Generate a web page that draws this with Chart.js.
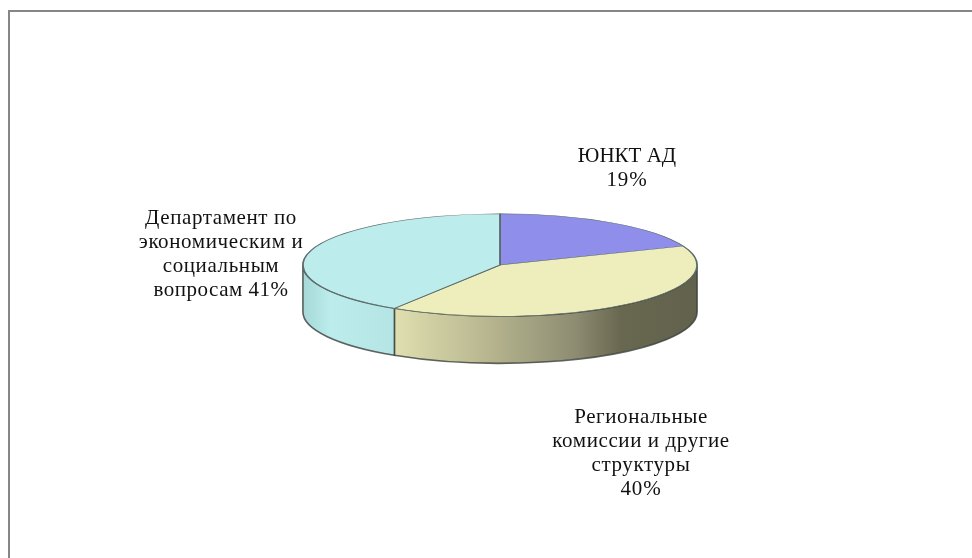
<!DOCTYPE html>
<html><head><meta charset="utf-8">
<style>html,body{margin:0;padding:0;background:#fff}#w{width:972px;height:558px;position:relative}</style>
<script src="https://cdn.jsdelivr.net/npm/chart.js@4/dist/chart.umd.min.js"></script>
</head><body><div id="w"><canvas id="c" width="972" height="558"></canvas></div>
<script>
const categories = ["ЮНКТАД", "Региональные комиссии и другие структуры", "Департамент по экономическим и социальным вопросам"];
const values = [19, 40, 41];
const topColors = ["#8f8feb", "#eeeebc", "#bcecec"];
const wallStops = [
  [[0, "#8f8feb"], [1, "#5a5a96"]],
  [[0, "#e0dfb0"], [0.3, "#b8b790"], [0.6, "#8d8c72"], [0.75, "#68674f"], [1, "#62614c"]],
  [[0, "#a6d8d8"], [0.3, "#bcecec"], [1, "#b4e4e4"]]
];
const labelLines = [
  ["ЮНКТ АД", "{v}%"],
  ["Региональные", "комиссии и другие", "структуры", "{v}%"],
  ["Департамент по", "экономическим и", "социальным", "вопросам {v}%"]
];
const labelAnchors = [[627, 156], [641, 417], [221, 218]];
const labelSpacing = [["0px", "0.8px"], ["0.6px", "0.6px", "0.6px", "0.8px"], ["0.6px", "0.6px", "0.6px", "0.5px"]];
const squash = 0.26, depth = 47, lineGap = 24.3;

const pie3d = {
  id: "pie3d",
  beforeDraw(chart) {
    const {ctx, width, height} = chart;
    ctx.save();
    ctx.fillStyle = "#fff"; ctx.fillRect(0, 0, width, height);
    ctx.strokeStyle = "#868686"; ctx.lineWidth = 2;
    ctx.beginPath();
    ctx.moveTo(9, height); ctx.lineTo(9, 11); ctx.lineTo(width, 11);
    ctx.stroke();
    ctx.restore();
  },
  beforeDatasetsDraw(chart) {
    const {ctx} = chart;
    const arcs = chart.getDatasetMeta(0).data;
    const cx = arcs[0].x, cy = arcs[0].y, rx = arcs[0].outerRadius, ry = rx * squash;
    arcs.forEach((a, i) => {
      const s = Math.max(a.startAngle, 0), e = Math.min(a.endAngle, Math.PI);
      if (e <= s) return;
      const x0 = cx + rx * Math.cos(e), x1 = cx + rx * Math.cos(s);
      const g = ctx.createLinearGradient(x0, 0, x1, 0);
      wallStops[i].forEach(p => g.addColorStop(p[0], p[1]));
      ctx.save();
      ctx.beginPath();
      ctx.ellipse(cx, cy, rx, ry, 0, s, e);
      ctx.ellipse(cx, cy + depth, rx, ry, 0, e, s, true);
      ctx.closePath();
      ctx.fillStyle = g; ctx.fill();
      ctx.strokeStyle = "rgba(55,62,58,0.8)"; ctx.lineWidth = 1.6; ctx.stroke();
      ctx.restore();
    });
    ctx.save();
    ctx.translate(0, cy); ctx.scale(1, squash); ctx.translate(0, -cy);
  },
  afterDatasetsDraw(chart) {
    const {ctx} = chart;
    ctx.restore();
    ctx.save();
    ctx.fillStyle = "#111";
    ctx.font = '21px "Liberation Serif"';
    ctx.textAlign = "center"; ctx.textBaseline = "middle";
    labelLines.forEach((lines, i) => {
      lines.forEach((t, j) => {
        ctx.letterSpacing = labelSpacing[i][j];
        ctx.fillText(t.replace("{v}", values[i]), labelAnchors[i][0], labelAnchors[i][1] + j * lineGap);
      });
    });
    ctx.restore();
  }
};

new Chart(document.getElementById("c"), {
  type: "pie",
  data: { labels: categories, datasets: [{ data: values, backgroundColor: topColors, borderColor: "#5c6c6a", borderWidth: 1.8 }] },
  options: {
    responsive: false, animation: false,
    layout: { padding: { left: 302, right: 274, top: 67, bottom: 95 } },
    plugins: { legend: { display: false }, tooltip: { enabled: false }, title: { display: false } }
  },
  plugins: [pie3d]
});
</script></body></html>
